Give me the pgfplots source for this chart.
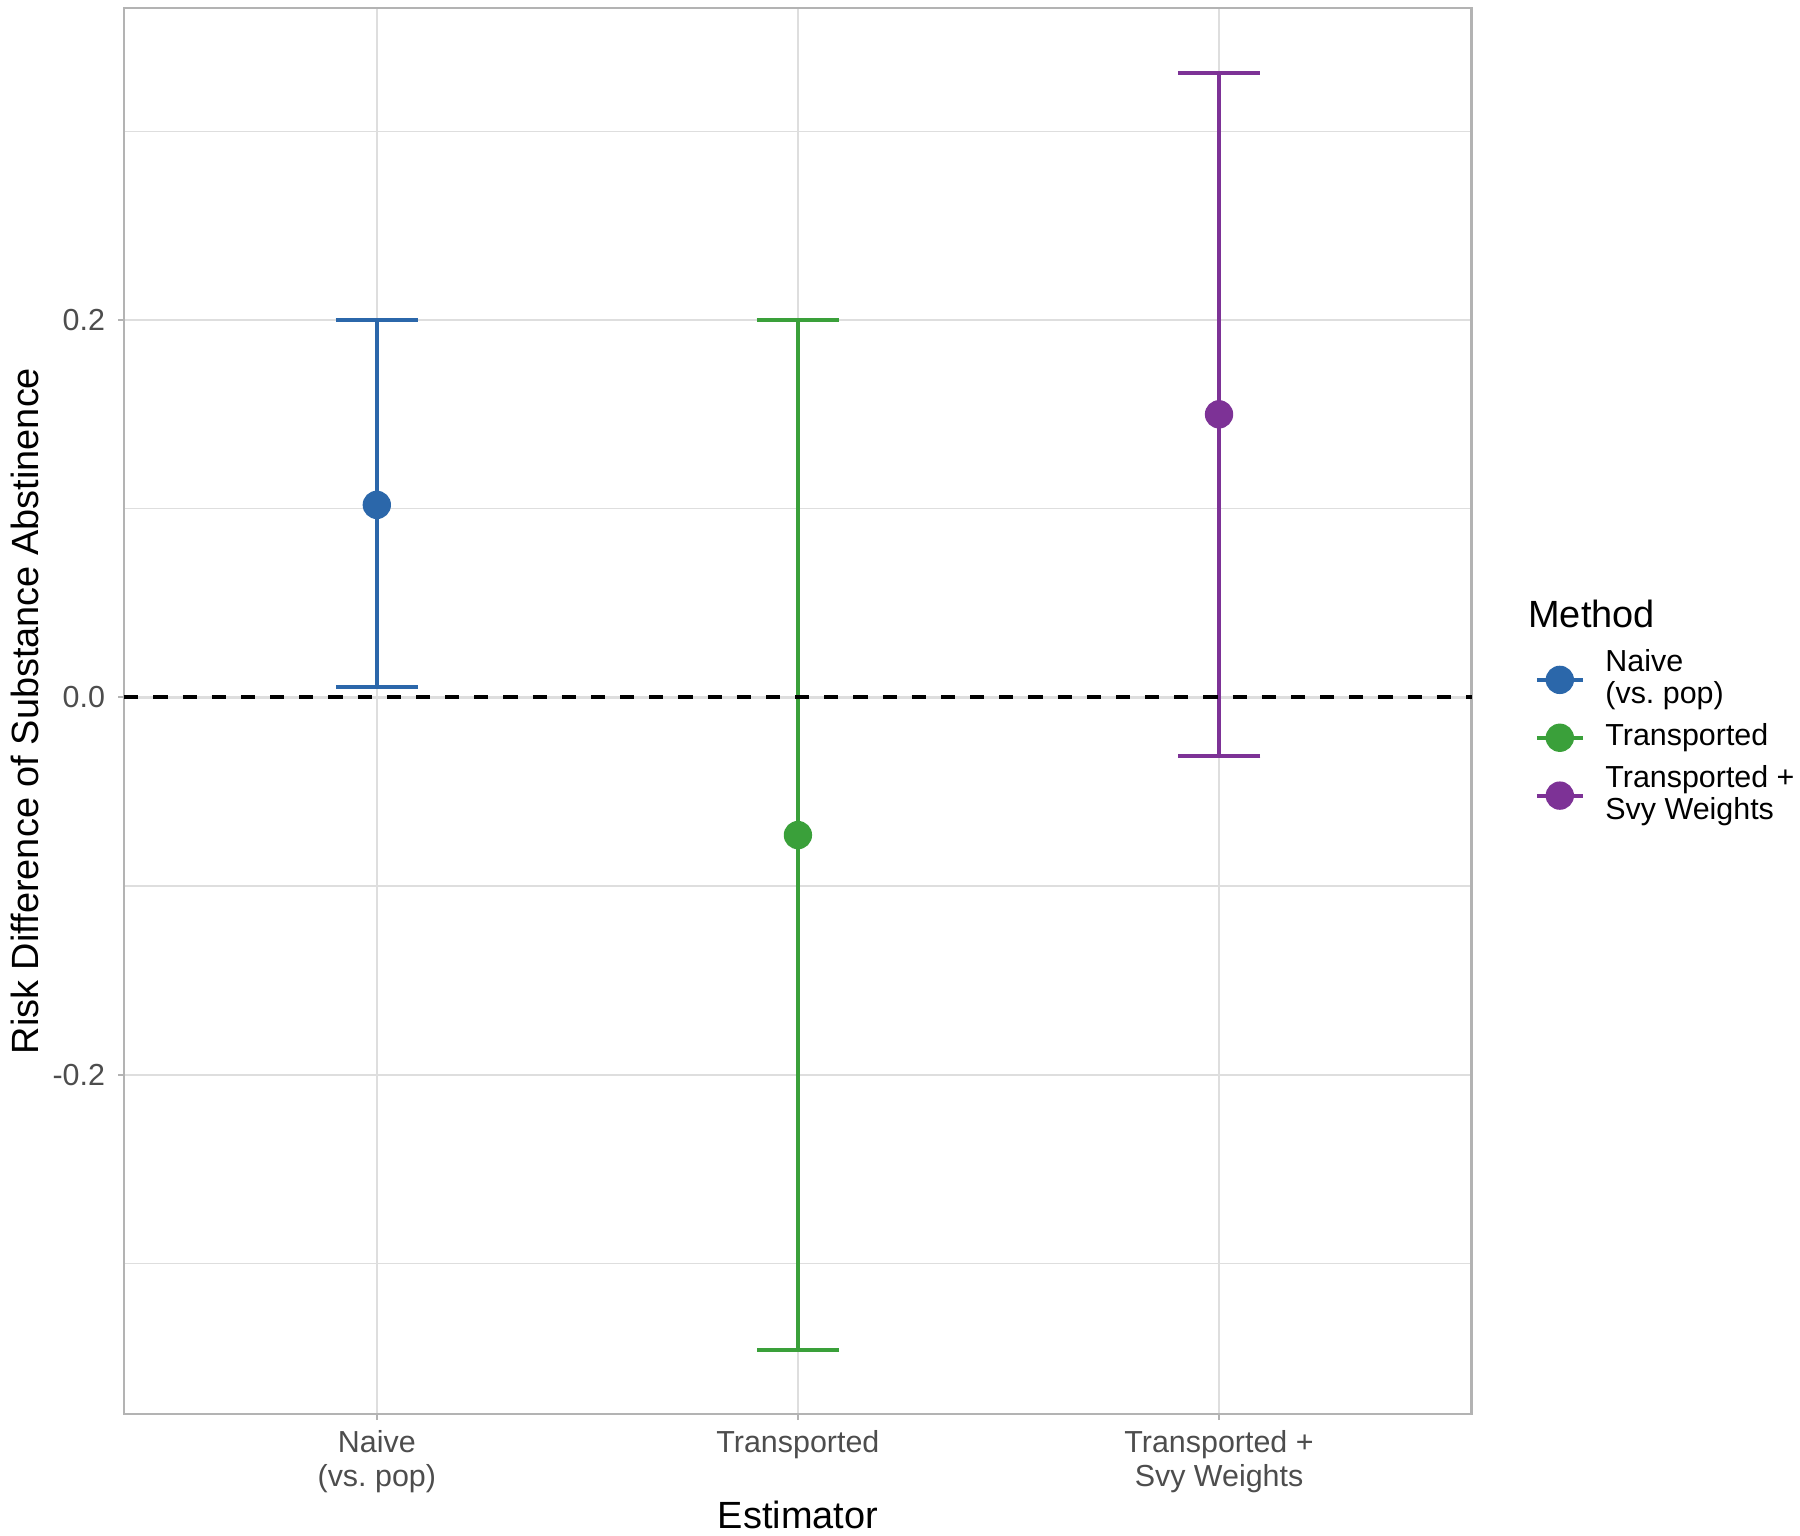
\documentclass[border=0pt]{standalone}
\usepackage{fontspec}
\setmainfont{Liberation Sans}
\usepackage{pgfplots}
\pgfplotsset{compat=1.18}
\definecolor{nblue}{HTML}{2B67AA}
\definecolor{ngreen}{HTML}{3AA03A}
\definecolor{npurple}{HTML}{7D3296}
\definecolor{gridc}{HTML}{DEDEDE}
\definecolor{borderc}{HTML}{B3B3B3}
\definecolor{tickc}{HTML}{4D4D4D}
\begin{document}
\begin{tikzpicture}
\begin{axis}[
  scale only axis,
  width=323.4pt, height=337.5pt,
  xmin=0.4, xmax=3.6,
  ymin=-0.3799, ymax=0.3654,
  xtick={1,2,3},
  xticklabels={{Naive\\(vs.\ pop)},{Transported},{Transported +\\Svy Weights}},
  x tick label style={align=center, font=\fontsize{7.3}{8.3}\selectfont, text=tickc, inner sep=0pt, yshift=-2.2pt},
  ytick={-0.2,0,0.2},
  minor ytick={-0.3,-0.1,0.1,0.3},
  y tick label style={font=\fontsize{7.3}{8.6}\selectfont, text=tickc, inner sep=0pt, xshift=-3pt,
    /pgf/number format/.cd, fixed, fixed zerofill, precision=1, assume math mode=true},
  xtick pos=bottom, ytick pos=left,
  tick align=outside,
  major tick length=1.4pt,
  minor tick length=0pt,
  tick style={borderc, line width=0.5pt},
  grid=both,
  major grid style={gridc, line width=0.55pt},
  minor grid style={gridc, line width=0.3pt},
  axis line style={borderc, line width=0.6pt},
  xlabel={Estimator},
  ylabel={Risk Difference of Substance Abstinence},
  label style={font=\fontsize{9.1}{11}\selectfont},
  xlabel style={at={([yshift=-24.3pt]axis description cs:0.5,0)}, anchor=center},
  ylabel style={at={([xshift=-23.8pt]axis description cs:0,0.5)}, anchor=center},
  legend style={draw=none, fill=none, at={(axis description cs:1,0.481)}, anchor=west, xshift=12pt,
    font=\fontsize{7.3}{7.6}\selectfont, nodes={align=left, inner sep=1pt}, row sep=1.3pt, column sep=4pt},
  legend cell align=left,
  clip=false,
]
\addplot[nblue, only marks, mark=*, mark size=3.2pt, forget plot,
  error bars/.cd, y dir=both, y explicit,
  error bar style={line width=0.9pt, nblue},
  error mark options={rotate=90, mark size=9.9pt, line width=0.9pt, nblue}]
  table[x=x, y=y, y error plus=ep, y error minus=em] {
x y ep em
1 0.102 0.098 0.0965
};
\addplot[ngreen, only marks, mark=*, mark size=3.2pt, forget plot,
  error bars/.cd, y dir=both, y explicit,
  error bar style={line width=0.9pt, ngreen},
  error mark options={rotate=90, mark size=9.9pt, line width=0.9pt, ngreen}]
  table[x=x, y=y, y error plus=ep, y error minus=em] {
x y ep em
2 -0.073 0.273 0.273
};
\addplot[npurple, only marks, mark=*, mark size=3.2pt, forget plot,
  error bars/.cd, y dir=both, y explicit,
  error bar style={line width=0.9pt, npurple},
  error mark options={rotate=90, mark size=9.9pt, line width=0.9pt, npurple}]
  table[x=x, y=y, y error plus=ep, y error minus=em] {
x y ep em
3 0.150 0.181 0.181
};
\addplot[black, dash pattern=on 3.4pt off 3.6pt, line width=0.95pt, forget plot] coordinates {(0.4,0) (3.6,0)};

\addlegendimage{legend image code/.code={\draw[nblue, line width=0.9pt] (0pt,0pt) -- (11pt,0pt); \fill[nblue] (5.5pt,0pt) circle (3.2pt);}}
\addlegendentry{Naive\\(vs.\ pop)}
\addlegendimage{legend image code/.code={\draw[ngreen, line width=0.9pt] (0pt,0pt) -- (11pt,0pt); \fill[ngreen] (5.5pt,0pt) circle (3.2pt);}}
\addlegendentry{Transported}
\addlegendimage{legend image code/.code={\draw[npurple, line width=0.9pt] (0pt,0pt) -- (11pt,0pt); \fill[npurple] (5.5pt,0pt) circle (3.2pt);}}
\addlegendentry{Transported +\\Svy Weights}

\node[anchor=west, font=\fontsize{9.1}{11}\selectfont, inner sep=0pt] at ([xshift=13.4pt]axis description cs:1,0.5689) {Method};
\coordinate (sw) at (rel axis cs:0,0);
\coordinate (ne) at (rel axis cs:1,1);
\end{axis}
\pgfresetboundingbox
\useasboundingbox ([shift={(-29.8pt,-29.2pt)}]sw) rectangle ([shift={(78.8pt,1.9pt)}]ne);
\end{tikzpicture}
\end{document}
